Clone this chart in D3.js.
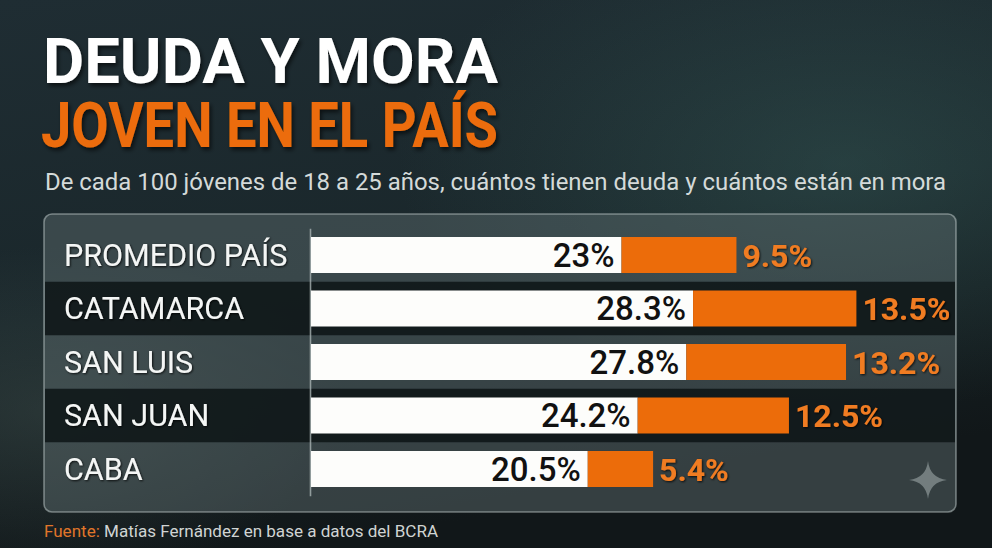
<!DOCTYPE html>
<html><head><meta charset="utf-8">
<script src="https://cdn.jsdelivr.net/npm/d3@7/dist/d3.min.js"></script>
<style>html,body{margin:0;padding:0;background:#162126;overflow:hidden}svg{display:block}</style>
</head><body>
<svg id="c" width="992" height="548"></svg>
<script>
const categories = ["PROMEDIO PAÍS", "CATAMARCA", "SAN LUIS", "SAN JUAN", "CABA"];
const deuda = [23, 28.3, 27.8, 24.2, 20.5];
const mora = [9.5, 13.5, 13.2, 12.5, 5.4];
const deudaLabels = ["23%", "28.3%", "27.8%", "24.2%", "20.5%"];
const moraLabels = ["9.5%", "13.5%", "13.2%", "12.5%", "5.4%"];
const titleLine1 = "DEUDA Y MORA";
const titleLine2 = "JOVEN EN EL PAÍS";
const subtitle = "De cada 100 jóvenes de 18 a 25 años, cuántos tienen deuda y cuántos están en mora";
const sourceLabel = "Fuente:";
const sourceText = " Matías Fernández en base a datos del BCRA";

const W = 992, H = 548;
const ORANGE = "#ec6c0a", ORANGE_TXT = "#f07c22";
const svg = d3.select("#c");
const defs = svg.append("defs");

const bg = defs.append("linearGradient").attr("id","bg").attr("x1",0).attr("y1",0).attr("x2",0.3).attr("y2",1);
bg.append("stop").attr("offset","0%").attr("stop-color","#1f2d33");
bg.append("stop").attr("offset","55%").attr("stop-color","#1a272b");
bg.append("stop").attr("offset","100%").attr("stop-color","#111719");
const glow = defs.append("radialGradient").attr("id","glow").attr("cx",0.85).attr("cy",0.3).attr("r",0.45);
glow.append("stop").attr("offset","0%").attr("stop-color","#3f6b66").attr("stop-opacity",0.35);
glow.append("stop").attr("offset","100%").attr("stop-color","#3f6b66").attr("stop-opacity",0);
const glow2 = defs.append("radialGradient").attr("id","glow2").attr("cx",0.05).attr("cy",0.75).attr("r",0.3);
glow2.append("stop").attr("offset","0%").attr("stop-color","#4a5a55").attr("stop-opacity",0.35);
glow2.append("stop").attr("offset","100%").attr("stop-color","#4a5a55").attr("stop-opacity",0);

const sh = defs.append("filter").attr("id","tshadow").attr("x","-10%").attr("y","-20%").attr("width","120%").attr("height","150%");
sh.append("feDropShadow").attr("dx",2).attr("dy",3).attr("stdDeviation",2).attr("flood-color","#000").attr("flood-opacity",0.6);
const sh2 = defs.append("filter").attr("id","lshadow").attr("x","-10%").attr("y","-20%").attr("width","120%").attr("height","150%");
sh2.append("feDropShadow").attr("dx",1).attr("dy",1).attr("stdDeviation",1.2).attr("flood-color","#000").attr("flood-opacity",0.8);

svg.append("rect").attr("width",W).attr("height",H).attr("fill","url(#bg)");
svg.append("rect").attr("width",W).attr("height",H).attr("fill","url(#glow)");
svg.append("rect").attr("width",W).attr("height",H).attr("fill","url(#glow2)");

// Titles
svg.append("text").attr("x",43).attr("y",83).text(titleLine1)
  .attr("font-family","Roboto").attr("font-weight",700).attr("font-size",63)
  .attr("fill","#ffffff").attr("filter","url(#tshadow)")
  .attr("textLength",455).attr("lengthAdjust","spacingAndGlyphs");
svg.append("text").attr("x",41).attr("y",147).text(titleLine2)
  .attr("font-family","Roboto").attr("font-weight",700).attr("font-size",63)
  .attr("fill",ORANGE).attr("filter","url(#tshadow)")
  .attr("textLength",457).attr("lengthAdjust","spacingAndGlyphs");
svg.append("text").attr("x",45).attr("y",190).text(subtitle)
  .attr("font-family","Roboto").attr("font-size",24).attr("fill","#d4dad9")
  .attr("textLength",901).attr("lengthAdjust","spacingAndGlyphs");

// Panel
const panel = {x:44, y:214, w:912, h:298};
svg.append("rect").attr("x",panel.x).attr("y",panel.y).attr("width",panel.w).attr("height",panel.h)
  .attr("rx",8).attr("fill","#5d6c6e").attr("fill-opacity",0.47);

const y = d3.scaleBand().domain(categories).range([228.25, 495.75]).paddingInner(0.327).paddingOuter(0.1635);
const x = d3.scaleLinear().domain([0, 47]).range([311, 311 + 47*13.5]);
const xMora = d3.scaleLinear().domain([0, 15]).range([0, 15*12.1]);
const step = y.step(), bw = y.bandwidth(), gap = (step - bw)/2;

const rows = categories.map((c,i)=>({c, i, d:deuda[i], m:mora[i], dl:deudaLabels[i], ml:moraLabels[i]}));

svg.append("g").selectAll("rect").data(rows.filter(r=>r.i%2===1)).join("rect")
  .attr("x",panel.x+1).attr("width",panel.w-2)
  .attr("y",r=>y(r.c)-gap).attr("height",step)
  .attr("fill","#0b1213").attr("fill-opacity",0.82);

svg.append("rect").attr("x",panel.x).attr("y",panel.y).attr("width",panel.w).attr("height",panel.h)
  .attr("rx",8).attr("fill","none").attr("stroke","#b8c2c2").attr("stroke-opacity",0.55).attr("stroke-width",1.6);

// axis line
const ax = svg.append("g").attr("transform","translate(310,0)")
  .call(d3.axisLeft(y).tickSize(0).tickSizeOuter(0).tickFormat(""));
ax.select(".domain").attr("stroke","#a9b3b3").attr("stroke-width",1.6).attr("stroke-opacity",0.8);

// Category labels
svg.append("g").selectAll("text").data(rows).join("text")
  .attr("x",64).attr("y",r=>y(r.c)+bw/2).attr("dy","0.36em")
  .attr("font-family","Roboto").attr("font-size",30.5).attr("fill","#f4f6f5")
  .attr("filter","url(#lshadow)")
  .text(r=>r.c);

// Bars
svg.append("g").selectAll("rect").data(rows).join("rect")
  .attr("x",x(0)).attr("y",r=>y(r.c)).attr("height",bw)
  .attr("width",r=>x(r.d)-x(0)).attr("fill","#fdfdfb");
svg.append("g").selectAll("rect").data(rows).join("rect")
  .attr("x",r=>x(r.d)).attr("y",r=>y(r.c)).attr("height",bw)
  .attr("width",r=>xMora(r.m)).attr("fill",ORANGE);

// Value labels
svg.append("g").selectAll("text").data(rows).join("text")
  .attr("x",r=>x(r.d)-7).attr("y",r=>y(r.c)+bw/2).attr("dy","0.36em")
  .attr("text-anchor","end").attr("font-family","Roboto").attr("font-weight",500)
  .attr("font-size",33).attr("fill","#111").text(r=>r.dl);
svg.append("g").selectAll("text").data(rows).join("text")
  .attr("x",r=>x(r.d)+xMora(r.m)+6).attr("y",r=>y(r.c)+bw/2).attr("dy","0.36em")
  .attr("font-family","Roboto").attr("font-weight",700)
  .attr("font-size",32).attr("fill",ORANGE_TXT).attr("filter","url(#lshadow)").text(r=>r.ml);

// sparkle watermark
svg.append("path").attr("transform","translate(928,480)")
  .attr("d","M0,-19 Q2,-2 19,0 Q2,2 0,19 Q-2,2 -19,0 Q-2,-2 0,-19 Z")
  .attr("fill","#a6b0b1").attr("fill-opacity",0.55);

// Source
const src = svg.append("text").attr("x",44).attr("y",537)
  .attr("font-family","Roboto").attr("font-size",16)
  .attr("textLength",394).attr("lengthAdjust","spacingAndGlyphs");
src.append("tspan").attr("fill","#e0762a").text(sourceLabel);
src.append("tspan").attr("fill","#d0d4d3").text(sourceText);
</script>
</body></html>
